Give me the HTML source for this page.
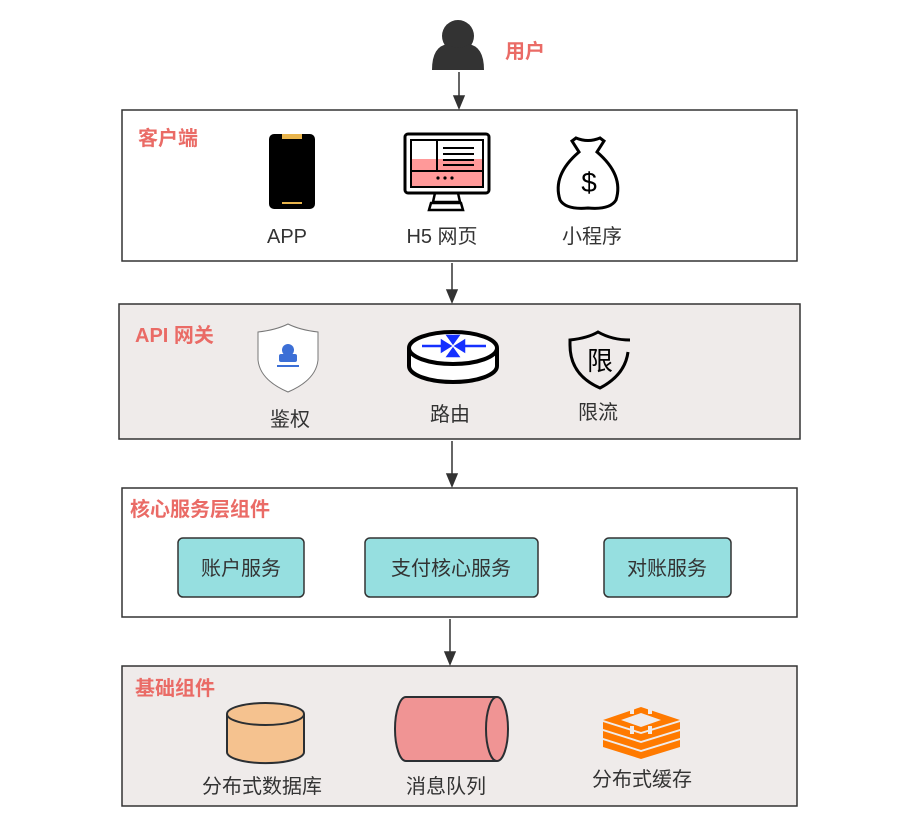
<!DOCTYPE html>
<html><head><meta charset="utf-8"><style>
html,body{margin:0;padding:0;background:#fff;}
svg{display:block;}
text{font-family:"Liberation Sans","Noto Sans CJK SC",sans-serif;}
.t{font-size:20px;fill:#333;text-anchor:middle;}
.h{font-size:20px;font-weight:bold;fill:#ea6b66;}
</style></head><body>
<svg width="913" height="832" viewBox="0 0 913 832" xmlns="http://www.w3.org/2000/svg">
<!-- user -->
<circle cx="458" cy="36" r="16" fill="#333"/>
<path d="M432,70 Q432,46 448,44 Q458,52 468,44 Q484,46 484,70 Z" fill="#333"/>
<text x="505" y="58" class="h">用户</text>
<!-- arrows -->
<g stroke="#333" stroke-width="1.5" fill="#333">
<line x1="459" y1="72" x2="459" y2="100"/><path d="M454,96 L464,96 L459,108 Z"/>
<line x1="452" y1="263" x2="452" y2="294"/><path d="M447,290 L457,290 L452,302 Z"/>
<line x1="452" y1="441" x2="452" y2="478"/><path d="M447,474 L457,474 L452,486 Z"/>
<line x1="450" y1="619" x2="450" y2="656"/><path d="M445,652 L455,652 L450,664 Z"/>
</g>
<!-- box1 -->
<rect x="122" y="110" width="675" height="151" fill="#fff" stroke="#333" stroke-width="1.5"/>
<text x="138" y="145" class="h">客户端</text>
<rect x="269" y="134" width="46" height="75" rx="5" fill="#000"/>
<rect x="282" y="134" width="20" height="5" fill="#e8b44c"/>
<rect x="282" y="202" width="20" height="2" fill="#e8b44c"/>
<rect x="405" y="134" width="84" height="59" rx="3" fill="#fff" stroke="#000" stroke-width="3"/>
<rect x="411" y="159" width="72" height="28" fill="#ff9999"/>
<rect x="411" y="140" width="72" height="47" fill="none" stroke="#000" stroke-width="2"/>
<line x1="411" y1="171" x2="483" y2="171" stroke="#000" stroke-width="2"/>
<line x1="437" y1="140" x2="437" y2="171" stroke="#000" stroke-width="2"/>
<g stroke="#000" stroke-width="2"><line x1="443" y1="148" x2="474" y2="148"/><line x1="443" y1="154" x2="474" y2="154"/><line x1="443" y1="160" x2="474" y2="160"/><line x1="443" y1="165" x2="474" y2="165"/></g>
<circle cx="438" cy="178" r="1.6"/><circle cx="445" cy="178" r="1.6"/><circle cx="452" cy="178" r="1.6"/>
<path d="M435,193 L433,202 L460,202 L458,193 M429,210 L431,203 L461,203 L463,210 Z" fill="none" stroke="#000" stroke-width="2.5"/>
<path d="M576,138 Q588,143 600,138 L604,141 L597,152 Q624,175 616,200 Q610,210 588,208 Q566,210 560,200 Q552,175 579,152 L572,141 Z" fill="none" stroke="#000" stroke-width="3"/>
<text x="589" y="192" font-size="28" text-anchor="middle" font-family="Liberation Sans" fill="#000">$</text>
<text x="287" y="243" class="t">APP</text>
<text x="442" y="243" class="t">H5 网页</text>
<text x="592" y="243" class="t">小程序</text>
<!-- box2 -->
<rect x="119" y="304" width="681" height="135" fill="#efebea" stroke="#333" stroke-width="1.5"/>
<text x="135" y="342" class="h">API 网关</text>
<path d="M288,324 Q300,330 318,332 L318,360 Q316,380 288,392 Q260,380 258,360 L258,332 Q276,330 288,324 Z" fill="#fff" stroke="#777" stroke-width="1"/>
<circle cx="288" cy="350" r="6" fill="#3c6fd6"/><rect x="279" y="354" width="18" height="8" rx="2" fill="#3c6fd6"/><rect x="277" y="365" width="22" height="2" fill="#3c6fd6"/>
<path d="M409,348 L409,366 A44,16 0 0 0 497,366 L497,348" fill="#fff" stroke="#000" stroke-width="4"/>
<ellipse cx="453" cy="348" rx="44" ry="16" fill="#fff" stroke="#000" stroke-width="4"/>
<g fill="#1530ff" stroke="#1530ff" stroke-width="2.5"><line x1="422" y1="346" x2="446" y2="346"/><line x1="460" y1="346" x2="486" y2="346"/><path d="M442,341 L450,346 L442,351Z"/><path d="M464,341 L456,346 L464,351Z"/><path d="M448,336 L458,336 L453,343Z"/><path d="M448,356 L458,356 L453,349Z"/></g>
<path d="M570,345 Q570,375 600,388 Q625,375 628,352 M570,345 L570,340 Q588,338 598,332 Q612,340 630,340" fill="none" stroke="#000" stroke-width="3"/>
<text x="600" y="370" font-size="26" text-anchor="middle" fill="#000">限</text>
<text x="290" y="426" class="t">鉴权</text>
<text x="450" y="421" class="t">路由</text>
<text x="598" y="419" class="t">限流</text>
<!-- box3 -->
<rect x="122" y="488" width="675" height="129" fill="#fff" stroke="#333" stroke-width="1.5"/>
<text x="130" y="516" class="h">核心服务层组件</text>
<g fill="#96dfe0" stroke="#333" stroke-width="1.5">
<rect x="178" y="538" width="126" height="59" rx="5"/>
<rect x="365" y="538" width="173" height="59" rx="5"/>
<rect x="604" y="538" width="127" height="59" rx="5"/></g>
<text x="241" y="575" class="t">账户服务</text>
<text x="451" y="575" class="t">支付核心服务</text>
<text x="667" y="575" class="t">对账服务</text>
<!-- box4 -->
<rect x="122" y="666" width="675" height="140" fill="#efebea" stroke="#333" stroke-width="1.5"/>
<text x="135" y="695" class="h">基础组件</text>
<path d="M227,714 L227,752 A38,11 0 0 0 304,752 L304,714" fill="#f5c28f" stroke="#2b2f33" stroke-width="2"/>
<ellipse cx="265.5" cy="714" rx="38.5" ry="11" fill="#f5c28f" stroke="#2b2f33" stroke-width="2"/>
<path d="M497,697 L406,697 A11,32 0 0 0 406,761 L497,761" fill="#f09494" stroke="#2b2f33" stroke-width="2"/>
<ellipse cx="497" cy="729" rx="11" ry="32" fill="#f09494" stroke="#2b2f33" stroke-width="2"/>
<g fill="#ff7a00">
<path d="M603,740 L641,752 L680,740 L680,747 L641,759 L603,747Z"/>
<path d="M603,731 L641,743 L680,731 L680,738 L641,750 L603,738Z"/>
<path d="M603,722 L641,734 L680,722 L680,729 L641,741 L603,729Z"/>
<path d="M603,720 L641,707 L680,720 L641,732Z"/>
</g>
<path d="M641,713 L661,720 L641,727 L621,720Z" fill="#efebea"/>
<g fill="#efebea">
<rect x="630" y="706" width="4" height="8"/><rect x="648" y="706" width="4" height="8"/>
<rect x="630" y="726" width="4" height="8"/><rect x="648" y="726" width="4" height="8"/>
</g>
<text x="262" y="793" class="t">分布式数据库</text>
<text x="446" y="793" class="t">消息队列</text>
<text x="642" y="786" class="t">分布式缓存</text>
</svg>
</body></html>
